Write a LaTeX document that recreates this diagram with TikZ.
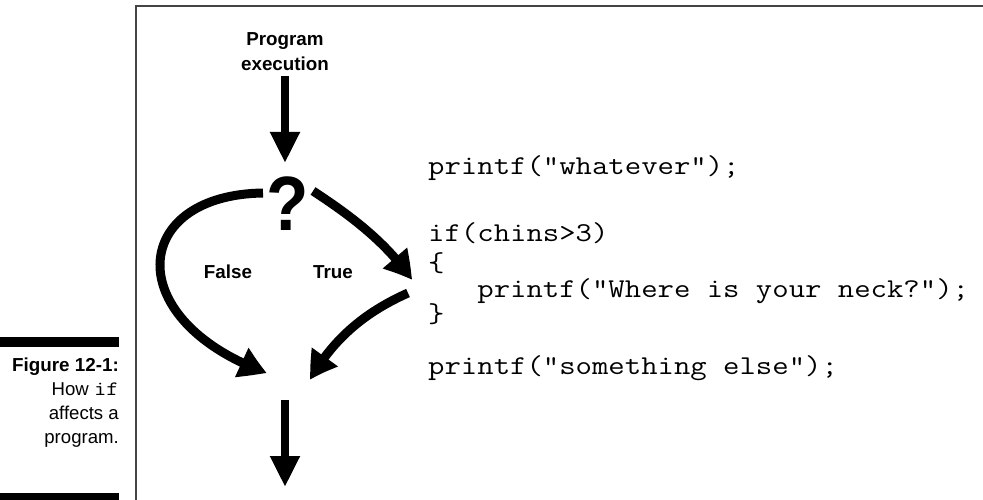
\documentclass[tikz,border=0pt]{standalone}
\usepackage{fontspec}
\setmainfont{Liberation Sans}
\newfontfamily\qfont[FakeStretch=0.9]{Liberation Sans}
\newfontfamily\cfont[FakeStretch=1.17]{Latin Modern Mono}
\usetikzlibrary{arrows.meta,bending}
\definecolor{framegray}{HTML}{444444}
\begin{document}
\begin{tikzpicture}[x=1pt,y=-1pt,
  lbl/.style={font=\fontsize{18.8}{22}\selectfont\bfseries, inner sep=0pt, anchor=base},
  codeline/.style={font=\cfont\fontsize{27.2}{30}\selectfont, inner sep=0pt, anchor=base west},
  captxt/.style={font=\fontsize{18.6}{24}\selectfont, inner sep=0pt, anchor=base east},
  flow/.style={line width=8.5pt, -{Triangle[length=31pt,width=28pt]}},
  bendflow/.style={line width=9pt, -{Triangle[length=28pt,width=30pt,bend]}},
]
\useasboundingbox (0,0) rectangle (983,500);
\fill[white] (0,0) rectangle (983,500);
% frame
\draw[line width=2pt, color=framegray] (136,500) -- (136,6) -- (983,6);
% caption bars
\fill[black] (0,337) rectangle (119,347);
\fill[black] (0,493) rectangle (119,500);
% caption
\node[captxt, font=\fontsize{18.8}{24}\selectfont\bfseries] (cap1) at (119,371) {Figure 12-1:};
\node[captxt] (cap2) at (119,395) {How {\cfont\fontsize{20.5}{24}\selectfont if}};
\node[captxt] (cap3) at (119,419) {affects a};
\node[captxt] (cap4) at (119,443) {program.};
% labels
\node[lbl] (prog) at (285,46) {Program};
\node[lbl] (exec) at (285,71) {execution};
\node[font=\qfont\fontsize{77}{77}\selectfont\bfseries, inner sep=0pt, anchor=base] (q) at (288,230) {?};
\node[lbl] (false) at (228,278) {False};
\node[lbl] (true) at (333,278) {True};
% code
\node[codeline] (c1) at (428,175) {printf("whatever");};
\node[codeline] (c2) at (428,241) {if(chins>3)};
\node[codeline] (c3) at (428,271) {\{};
\node[codeline] (c4) at (428,297) {\ \ \ printf("Where is your neck?");};
\node[codeline] (c5) at (428,322) {\}};
\node[codeline] (c6) at (428,374) {printf("something else");};
% arrow end points
\coordinate (a1s) at (285,76);
\coordinate (a1e) at (285,163);
\coordinate (fs) at (263,193);
\coordinate (ft) at (267,373);
\coordinate (ts) at (313,191);
\coordinate (tt) at (412,280);
\coordinate (bs) at (408,293);
\coordinate (bt) at (310,380);
\coordinate (ds) at (285,400);
\coordinate (de) at (285,487);
% arrows
\draw[flow] (a1s) -- (a1e);
\draw[bendflow] (fs) .. controls (130,195) and (120,320) .. (ft);
\draw[bendflow] (ts) .. controls (345,212) and (385,240) .. (tt);
\draw[bendflow] (bs) .. controls (370,310) and (335,335) .. (bt);
\draw[flow] (ds) -- (de);
\end{tikzpicture}
\end{document}
